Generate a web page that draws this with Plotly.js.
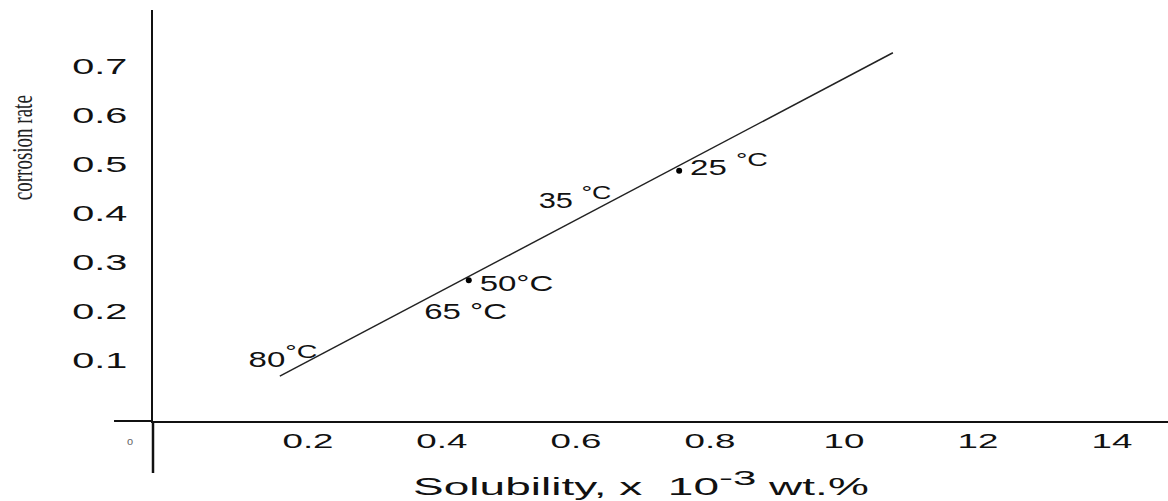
<!DOCTYPE html>
<html>
<head>
<meta charset="utf-8">
<script src="https://cdn.plot.ly/plotly-3.0.1.min.js"></script>
<style>
  html, body { margin: 0; padding: 0; background: #fff; }
  #chart { width: 1168px; height: 501px; }
</style>
</head>
<body>
<div id="chart"></div>
<script>
// ---- data ----
const xTickVals = [0.2, 0.4, 0.6, 0.8, 1.0, 1.2, 1.4];
const xTickText = ["0.2", "0.4", "0.6", "0.8", "10", "12", "14"];
const yTickVals = [0.1, 0.2, 0.3, 0.4, 0.5, 0.6, 0.7];
const yTickText = ["0.1", "0.2", "0.3", "0.4", "0.5", "0.6", "0.7"];

// trend line (solubility, corrosion rate)
const lineSolubility = [0.158, 1.073];
const lineCorrosion = [0.067, 0.727];

// measured points marked with dots
const dotSolubility = [0.44, 0.754];
const dotCorrosion = [0.263, 0.486];

// temperature labels and their position along the line
const tempLabels = [
  "80<sup><span style='font-size:19px'>°C</span></sup>",
  "65 °C",
  "50°C",
  "35 <sup><span style='font-size:19px'>°C</span></sup>",
  "25 <sup><span style='font-size:19px'>°C</span></sup>"
];
const tempSolubility = [0.158, 0.397, 0.44, 0.636, 0.754];
const tempCorrosion = [0.067, 0.240, 0.263, 0.412, 0.486];

// ---- presentation ----
const FONT = "Liberation Sans, Arial, sans-serif";
const labelOffsets = [
  {xshift: 3, yshift: 20, sx: 1.5},
  {xshift: 26, yshift: -20, sx: 1.5},
  {xshift: 48, yshift: -3, sx: 1.5},
  {xshift: -25, yshift: 10, sx: 1.4},
  {xshift: 50, yshift: 6, sx: 1.5}
];

const traces = [
  {
    x: lineSolubility, y: lineCorrosion, type: "scatter", mode: "lines",
    line: {color: "#222", width: 1.5}, hoverinfo: "skip"
  },
  {
    x: dotSolubility, y: dotCorrosion, type: "scatter", mode: "markers",
    marker: {color: "#000", size: 6}, hoverinfo: "skip"
  }
];

const annStretch = [];
const annotations = tempLabels.map((t, i) => {
  annStretch.push([labelOffsets[i].sx, 1]);
  return {
    x: tempSolubility[i], y: tempCorrosion[i], xref: "x", yref: "y",
    text: t, showarrow: false, yanchor: "middle", xanchor: "center",
    xshift: labelOffsets[i].xshift, yshift: labelOffsets[i].yshift,
    font: {family: FONT, size: 22, color: "#111"}
  };
});

annotations.push({
  x: -0.129, y: 0.664, xref: "paper", yref: "paper", textangle: -90,
  text: "corrosion rate", showarrow: false, xanchor: "center", yanchor: "middle",
  font: {family: "Liberation Serif, Times New Roman, serif", size: 19, color: "#222"}
});
annStretch.push([1, 1.5]);
annotations.push({
  x: 0.481, y: -0.152, xref: "paper", yref: "paper",
  text: "Solubility, x&nbsp;&nbsp;10<sup><span style='font-size:21px'>-3</span></sup> wt.%", showarrow: false, xanchor: "center", yanchor: "middle",
  font: {family: FONT, size: 23, color: "#111"}
});
annStretch.push([2.0, 1]);
annotations.push({
  x: -0.0227, y: -0.049, xref: "paper", yref: "paper",
  text: "o", showarrow: false, xanchor: "center", yanchor: "middle",
  font: {family: FONT, size: 11, color: "#666"}
});
annStretch.push([1, 1]);

const layout = {
  width: 1168, height: 501,
  margin: {l: 153, r: 0, t: 10, b: 80},
  paper_bgcolor: "#fff", plot_bgcolor: "#fff",
  showlegend: false,
  xaxis: {
    range: [-0.0313, 1.4836], tickvals: xTickVals, ticktext: xTickText,
    showgrid: false, zeroline: false, showline: true, linecolor: "#111", linewidth: 2,
    ticks: "", ticklabelstandoff: 0,
    tickfont: {family: FONT, size: 21, color: "#111"}
  },
  yaxis: {
    range: [-0.0245, 0.8143], tickvals: yTickVals, ticktext: yTickText,
    showgrid: false, zeroline: false, showline: true, linecolor: "#111", linewidth: 2.5,
    ticks: "", ticklabelstandoff: 31,
    tickfont: {family: FONT, size: 22, color: "#111"}
  },
  shapes: [
    {type: "line", xref: "paper", yref: "paper", x0: 0, x1: 0, y0: 0, y1: -0.1265,
     line: {color: "#111", width: 2.5}},
    {type: "line", xref: "paper", yref: "paper", x0: -0.0384, x1: 0, y0: 0, y1: 0,
     line: {color: "#111", width: 2}}
  ],
  annotations: annotations
};

// widen text horizontally (the reference lettering is stretched)
function stretch(el, sx, sy) {
  if (sx === 1 && sy === 1) return;
  const b = el.getBBox();
  const cx = b.x + b.width / 2, cy = b.y + b.height / 2;
  const t = el.getAttribute("transform") || "";
  el.setAttribute("transform",
    t + " translate(" + cx + "," + cy + ") scale(" + sx + "," + sy + ") translate(" + (-cx) + "," + (-cy) + ")");
}

Plotly.newPlot("chart", traces, layout, {staticPlot: true, displayModeBar: false}).then(gd => {
  gd.querySelectorAll(".xtick text").forEach(el => stretch(el, 1.75, 1));
  gd.querySelectorAll(".ytick text").forEach(el => stretch(el, 1.8, 1));
  gd.querySelectorAll("g.annotation").forEach(g => {
    const i = +g.getAttribute("data-index");
    const el = g.querySelector("text.annotation-text");
    if (el && annStretch[i]) stretch(el, annStretch[i][0], annStretch[i][1]);
  });
});
</script>
</body>
</html>
